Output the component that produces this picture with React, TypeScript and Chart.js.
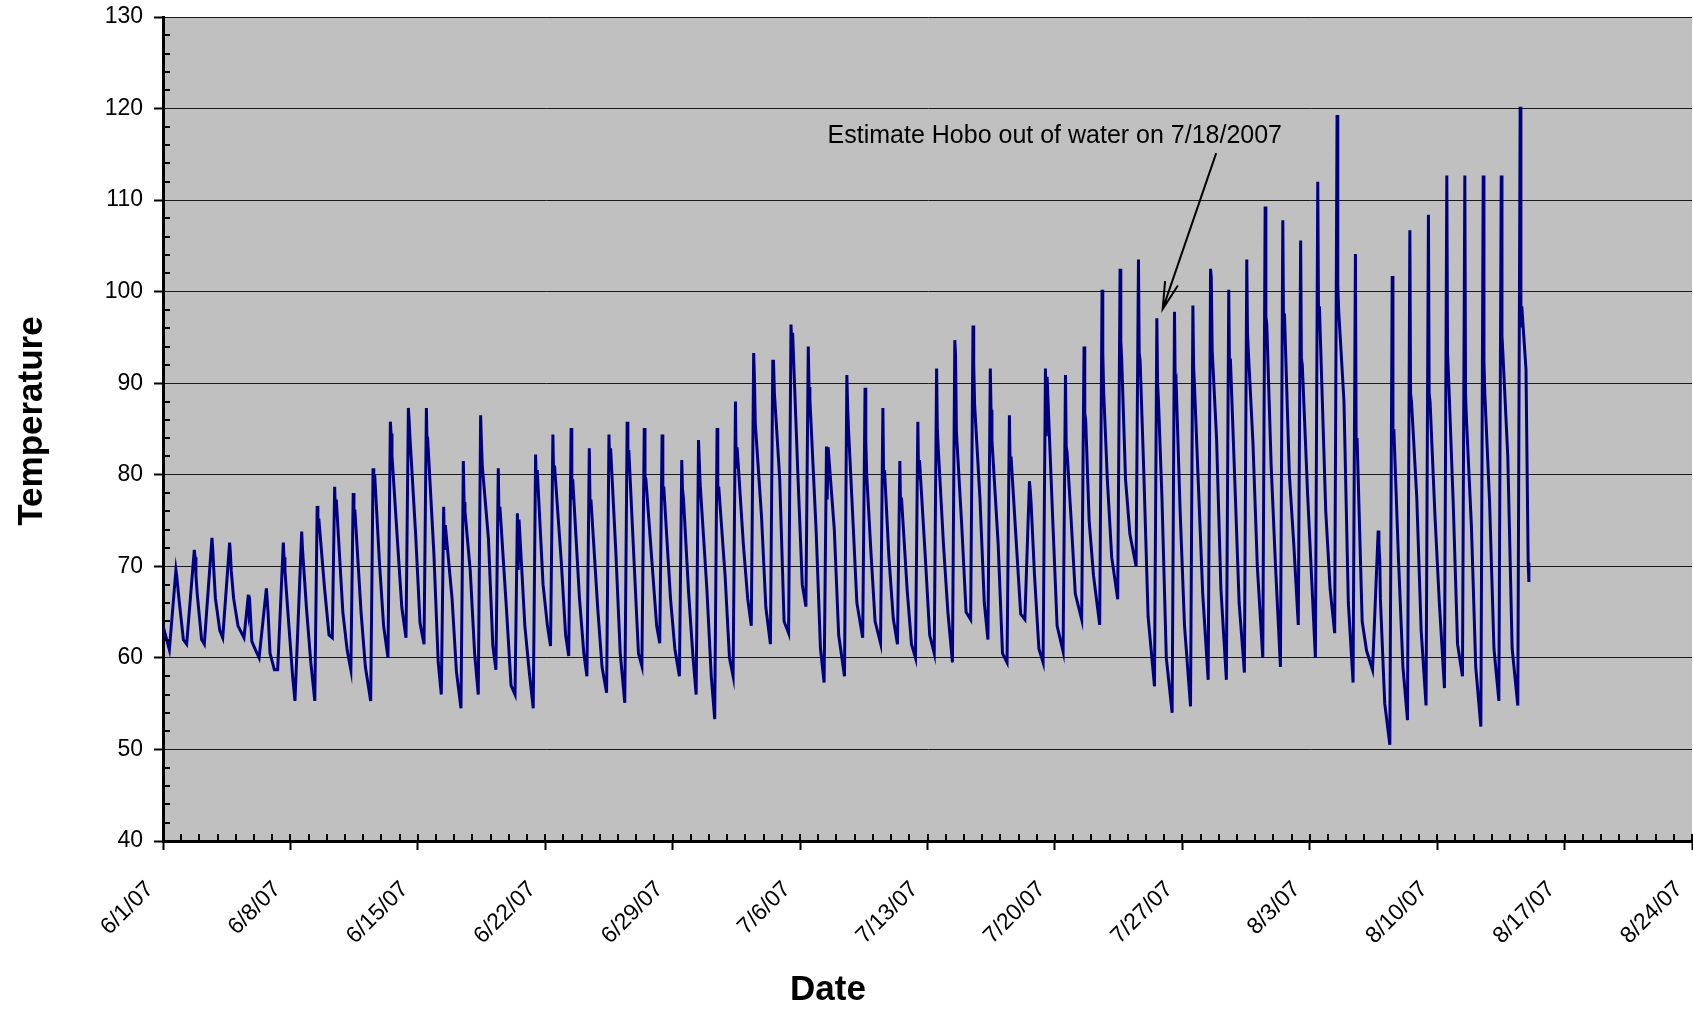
import React, { useEffect, useRef } from "react";
import { Chart, registerables } from "chart.js";

Chart.register(...registerables);

// ---------- axis settings ----------
const FIRST_DATE = { year: 2007, month: 5, day: 1 }; // 6/1/07 is day 0
const X_MIN_DAY = 0;
const X_MAX_DAY = 84;
const X_MAJOR_STEP = 7;
const Y_MIN = 40;
const Y_MAX = 130;
const Y_MAJOR_STEP = 10;
const Y_MINOR_STEP = 2;

const Y_TITLE = "Temperature";
const X_TITLE = "Date";

// ---------- readings (one daily cycle per entry, day 0 = 6/1/07) ----------
// time of day (fraction) of the low just before the daily rise
const troughAt = [
  0.35, 0.3, 0.27, 0.28, 0.45, 0.28, 0.3, 0.25,
  0.34, 0.3, 0.32, 0.41, 0.36, 0.35, 0.34,
  0.29, 0.37, 0.32, 0.29, 0.34, 0.34, 0.29, 0.29, 0.29, 0.37, 0.37, 0.31, 0.29, 0.37, 0.29, 0.31,
  0.32, 0.32, 0.37, 0.37, 0.32, 0.32, 0.44, 0.44, 0.42, 0.35, 0.34, 0.37, 0.37, 0.37, 0.32, 0.37, 0.35,
  0.35, 0.45, 0.47, 0.46, 0.45, 0.46, 0.47, 0.44, 0.45, 0.42, 0.42, 0.41, 0.42, 0.39, 0.37, 0.31, 0.37, 0.38,
  0.45, 0.4, 0.37, 0.39, 0.4, 0.39, 0.4, 0.39, 0.43,
];
// time of day (fraction) of the daily peak
const peakAt = [
  0.71, 0.72, 0.69, 0.66, 0.69, 0.68, 0.61, 0.62,
  0.47, 0.43, 0.45, 0.54, 0.49, 0.48, 0.47,
  0.42, 0.5, 0.45, 0.42, 0.47, 0.47, 0.42, 0.42, 0.42, 0.5, 0.5, 0.44, 0.42, 0.5, 0.42, 0.44,
  0.45, 0.45, 0.5, 0.5, 0.45, 0.45, 0.57, 0.57, 0.55, 0.48, 0.47, 0.5, 0.5, 0.5, 0.45, 0.5, 0.6,
  0.48, 0.58, 0.6, 0.59, 0.58, 0.59, 0.6, 0.57, 0.58, 0.55, 0.55, 0.54, 0.55, 0.52, 0.5, 0.44, 0.5, 0.51,
  0.76, 0.53, 0.5, 0.52, 0.53, 0.52, 0.53, 0.52, 0.56,
];
const troughTemps = [
  60.9, 61.5, 61.5, 62.2, 62.2, 60.0, 58.7, 55.3,
  55.3, 62.2, 58.7, 55.3, 60.0, 62.2, 61.5,
  56.0, 54.5, 56.0, 58.7, 56.0, 54.5, 61.3, 60.2, 58.0, 56.2, 55.1, 59.1, 61.6, 58.0, 56.0, 53.3,
  58.0, 63.5, 61.5, 62.7, 65.6, 57.3, 58.0, 62.2, 61.6, 61.5, 60.0, 60.5, 59.5, 64.2, 62.0, 59.5, 64.2,
  59.5, 60.7, 64.2, 63.6, 66.4, 70.0, 56.9, 54.0, 54.7, 57.6, 57.6, 58.4, 60.0, 59.0, 63.6, 60.0, 62.7, 57.3,
  58.7, 50.5, 53.2, 54.8, 56.7, 58.0, 52.5, 55.3, 54.8,
];
const peakTemps = [
  69.6, 71.8, 73.1, 72.6, 66.9, 67.6, 72.6, 73.8,
  76.6, 78.7, 78.0, 80.7, 85.8, 87.3, 87.3,
  76.5, 81.5, 86.5, 80.7, 75.8, 82.2, 84.4, 85.1, 82.9, 84.4, 85.8, 85.1, 84.4, 81.6, 83.8, 85.1,
  88.0, 93.3, 92.4, 96.4, 94.0, 83.1, 90.9, 89.5, 87.3, 81.5, 85.8, 91.6, 94.7, 96.3, 91.6, 86.5, 79.3,
  91.6, 90.9, 94.0, 100.2, 102.5, 103.5, 97.1, 97.8, 98.5, 102.5, 100.2, 103.5, 109.3, 107.8, 105.6, 112.0, 119.3, 104.1,
  73.9, 101.7, 106.7, 108.4, 112.7, 112.7, 112.7, 112.7, 120.2,
];
// value just after the peak
const notchTemps = [
  69.0, 71.0, 72.0, 71.5, 64.9, 66.5, 71.0, 72.0,
  73.7, 76.2, 74.7, 78.7, 84.5, 86.0, 82.8,
  71.8, 77.0, 83.8, 75.1, 69.6, 78.7, 80.0, 77.3, 76.9, 80.9, 80.9, 79.8, 77.3, 78.4, 81.6, 77.3,
  80.7, 90.7, 92.4, 94.4, 89.6, 77.3, 87.6, 83.8, 79.5, 76.5, 79.5, 85.1, 93.1, 92.0, 87.1, 80.9, 78.4,
  84.2, 83.1, 86.7, 93.3, 94.7, 93.3, 90.0, 89.6, 91.8, 101.6, 92.0, 95.5, 97.3, 96.5, 92.7, 97.8, 100.7, 83.3,
  72.5, 83.7, 88.8, 88.8, 93.3, 88.8, 92.4, 95.2, 96.1,
];
// small second bump after the notch
const secondTemps = [
  68.0, 69.0, 70.0, 69.5, 65.5, 65.0, 69.5, 70.5,
  75.2, 77.3, 76.2, 80.0, 82.1, 84.0, 83.2,
  74.5, 76.0, 81.0, 76.5, 75.1, 80.5, 81.0, 79.5, 77.3, 82.9, 82.7, 79.5, 78.7, 77.5, 79.0, 78.7,
  83.0, 85.6, 88.9, 95.5, 88.2, 83.0, 85.0, 80.0, 80.5, 77.5, 81.6, 82.9, 84.6, 87.6, 83.8, 82.0, 77.0,
  90.7, 82.4, 86.0, 89.0, 92.5, 92.5, 88.0, 90.0, 89.6, 93.6, 92.7, 93.3, 96.4, 97.6, 92.0, 98.4, 97.9, 84.0,
  70.5, 85.0, 88.0, 88.0, 91.0, 86.0, 88.8, 93.3, 98.4,
];
// value in the evening decline
const kneeTemps = [
  66.4, 67.0, 66.5, 66.5, 61.8, 60.5, 64.5, 65.5,
  67.5, 65.0, 65.0, 70.8, 72.8, 73.5, 71.5,
  66.5, 69.5, 73.0, 65.0, 63.5, 68.0, 70.5, 66.5, 65.5, 71.5, 70.5, 70.0, 66.5, 67.0, 67.5, 69.0,
  72.5, 75.5, 79.6, 80.0, 74.0, 74.0, 76.0, 72.0, 71.0, 67.5, 71.0, 72.3, 74.5, 77.5, 72.5, 72.5, 69.0,
  75.1, 75.5, 75.0, 79.5, 79.5, 80.5, 77.5, 76.0, 79.0, 84.0, 79.5, 83.5, 81.0, 80.0, 78.0, 76.0, 88.0, 64.0,
  66.5, 70.5, 77.5, 75.5, 77.0, 74.5, 77.0, 82.0, 91.5,
];
// value late at night (last day has none: logger stops)
const lateTemps: (number | null)[] = [
  62.0, 62.0, 63.0, 63.5, 60.7, 58.7, 58.0, 59.5,
  62.5, 60.8, 59.0, 63.5, 65.5, 63.8, 59.5,
  58.5, 60.5, 61.3, 57.0, 58.5, 63.5, 62.5, 60.5, 59.0, 60.5, 60.5, 63.5, 61.0, 60.0, 58.0, 60.0,
  66.5, 65.5, 64.0, 68.0, 61.0, 62.5, 66.0, 64.0, 64.3, 61.5, 62.5, 65.0, 65.0, 66.0, 60.5, 64.8, 61.0,
  63.5, 67.0, 69.0, 71.0, 73.5, 64.5, 60.0, 63.5, 67.0, 67.5, 66.0, 70.0, 70.0, 72.5, 68.0, 67.5, 66.0, 60.8,
  55.0, 59.0, 63.0, 66.0, 61.5, 59.0, 61.0, 61.0, null,
];
const startDay = 0;
const startTemp = 63.5;
const endDays = [75.0, 75.04];
const endTemps = [70.4, 68.3];

// reading times within each day (fractions of a day)
const NOTCH_LAG = 0.04;
const SECOND_LAG = 0.09;
const KNEE_AT = 0.88;
const LATE_AT = 1.12;

// annotation (data units)
const NOTE_TEXT = "Estimate Hobo out of water on 7/18/2007";
const NOTE_AT = { day: 36.51, temp: 116.97 };
const ARROW_FROM = { day: 57.86, temp: 115.14 };
const ARROW_TO = { day: 54.92, temp: 98.1 };

const FONT = '"Liberation Sans", Arial, Helvetica, sans-serif';

function dayLabel(v: number): string {
  const dt = new Date(FIRST_DATE.year, FIRST_DATE.month, FIRST_DATE.day + v);
  const yy = String(dt.getFullYear() % 100).padStart(2, "0");
  return `${dt.getMonth() + 1}/${dt.getDate()}/${yy}`;
}

function buildPoints() {
  const pts: { x: number; y: number }[] = [{ x: startDay, y: startTemp }];
  for (let d = 0; d < peakTemps.length; d++) {
    pts.push({ x: d + troughAt[d], y: troughTemps[d] });
    pts.push({ x: d + peakAt[d], y: peakTemps[d] });
    pts.push({ x: d + peakAt[d] + NOTCH_LAG, y: notchTemps[d] });
    pts.push({ x: d + peakAt[d] + SECOND_LAG, y: secondTemps[d] });
    pts.push({ x: d + KNEE_AT, y: kneeTemps[d] });
    const late = lateTemps[d];
    if (late !== null && late !== undefined) pts.push({ x: d + LATE_AT, y: late });
  }
  endDays.forEach((x, i) => pts.push({ x, y: endTemps[i] }));
  return pts;
}

const backgroundPlugin = {
  id: "plotBackground",
  beforeDraw(chart: any) {
    const { ctx, chartArea, width, height } = chart;
    ctx.save();
    ctx.fillStyle = "#ffffff";
    ctx.fillRect(0, 0, width, height);
    ctx.fillStyle = "#C0C0C0";
    ctx.fillRect(chartArea.left, chartArea.top, chartArea.right - chartArea.left, chartArea.bottom - chartArea.top);
    ctx.restore();
  },
};

const decorPlugin = {
  id: "decor",
  afterDraw(chart: any) {
    const { ctx, chartArea } = chart;
    const xs = chart.scales.x;
    const ys = chart.scales.y;
    ctx.save();
    // minor ticks and inner halves of the date ticks
    ctx.strokeStyle = "#000";
    ctx.lineWidth = 2;
    ctx.beginPath();
    for (let v = Y_MIN + Y_MINOR_STEP; v < Y_MAX; v += Y_MINOR_STEP) {
      if (v % Y_MAJOR_STEP === 0) continue;
      const y = Math.round(ys.getPixelForValue(v));
      ctx.moveTo(chartArea.left, y);
      ctx.lineTo(chartArea.left + 7, y);
    }
    for (let d = X_MIN_DAY + 1; d <= X_MAX_DAY; d++) {
      const x = Math.round(xs.getPixelForValue(d));
      ctx.moveTo(x, chartArea.bottom);
      ctx.lineTo(x, chartArea.bottom - 7);
    }
    ctx.stroke();

    // axis titles
    ctx.fillStyle = "#000";
    ctx.font = `bold 35px ${FONT}`;
    ctx.textAlign = "center";
    ctx.textBaseline = "middle";
    ctx.fillText(X_TITLE, 828, 990);
    ctx.save();
    ctx.translate(32, 421);
    ctx.rotate(-Math.PI / 2);
    ctx.fillText(Y_TITLE, 0, 0);
    ctx.restore();

    // annotation
    ctx.font = `25px ${FONT}`;
    ctx.textAlign = "left";
    ctx.textBaseline = "middle";
    ctx.fillText(NOTE_TEXT, xs.getPixelForValue(NOTE_AT.day), ys.getPixelForValue(NOTE_AT.temp));

    const x1 = xs.getPixelForValue(ARROW_FROM.day);
    const y1 = ys.getPixelForValue(ARROW_FROM.temp);
    const x2 = xs.getPixelForValue(ARROW_TO.day);
    const y2 = ys.getPixelForValue(ARROW_TO.temp);
    ctx.strokeStyle = "#000";
    ctx.lineWidth = 2;
    ctx.beginPath();
    ctx.moveTo(x1, y1);
    ctx.lineTo(x2, y2);
    const ang = Math.atan2(y1 - y2, x1 - x2);
    const head = 28;
    const spread = (14 * Math.PI) / 180;
    ctx.moveTo(x2 + head * Math.cos(ang - spread), y2 + head * Math.sin(ang - spread));
    ctx.lineTo(x2, y2);
    ctx.lineTo(x2 + head * Math.cos(ang + spread), y2 + head * Math.sin(ang + spread));
    ctx.stroke();
    ctx.restore();
  },
};

export default function App() {
  const canvasRef = useRef<HTMLCanvasElement | null>(null);

  useEffect(() => {
    const canvas = canvasRef.current;
    if (!canvas) return;
    const chart = new Chart(canvas, {
      type: "line",
      data: {
        datasets: [
          {
            data: buildPoints(),
            borderColor: "#000080",
            borderWidth: 3,
            pointRadius: 0,
            tension: 0,
            fill: false,
          },
        ],
      },
      options: {
        animation: false,
        responsive: false,
        devicePixelRatio: 1,
        layout: { padding: { top: 17, right: 1, left: 0, bottom: 0 } },
        plugins: { legend: { display: false }, tooltip: { enabled: false } },
        scales: {
          x: {
            type: "linear",
            min: X_MIN_DAY,
            max: X_MAX_DAY,
            ticks: {
              stepSize: X_MAJOR_STEP,
              autoSkip: false,
              minRotation: 45,
              maxRotation: 45,
              color: "#000",
              padding: 26,
              labelOffset: -13,
              font: { family: FONT, size: 23 },
              callback: (v: any) => dayLabel(Number(v)),
            },
            grid: {
              drawOnChartArea: false,
              drawTicks: true,
              tickLength: 9,
              tickWidth: 2,
              tickColor: "#000",
            },
            border: { display: true, color: "#000", width: 3 },
            afterFit: (s: any) => {
              s.height = 170;
              s.paddingLeft = 0;
              s.paddingRight = 0;
              s.paddingTop = 0;
              s.paddingBottom = 0;
            },
          },
          y: {
            min: Y_MIN,
            max: Y_MAX,
            ticks: {
              stepSize: Y_MAJOR_STEP,
              color: "#000",
              padding: 11,
              font: { family: FONT, size: 23 },
            },
            grid: {
              color: "#1a1a1a",
              lineWidth: 1,
              tickLength: 9,
              tickWidth: 2,
              tickColor: "#000",
            },
            border: { display: true, color: "#000", width: 3 },
            afterFit: (s: any) => {
              s.width = 163;
              s.paddingTop = 0;
              s.paddingBottom = 0;
              s.paddingLeft = 0;
              s.paddingRight = 0;
            },
          },
        },
      } as any,
      plugins: [backgroundPlugin, decorPlugin],
    });
    return () => chart.destroy();
  }, []);

  return (
    <div style={{ position: "absolute", left: 0, top: 0, width: 1693, height: 1011, background: "#fff" }}>
      <canvas ref={canvasRef} width={1693} height={1011} style={{ display: "block" }} />
    </div>
  );
}
